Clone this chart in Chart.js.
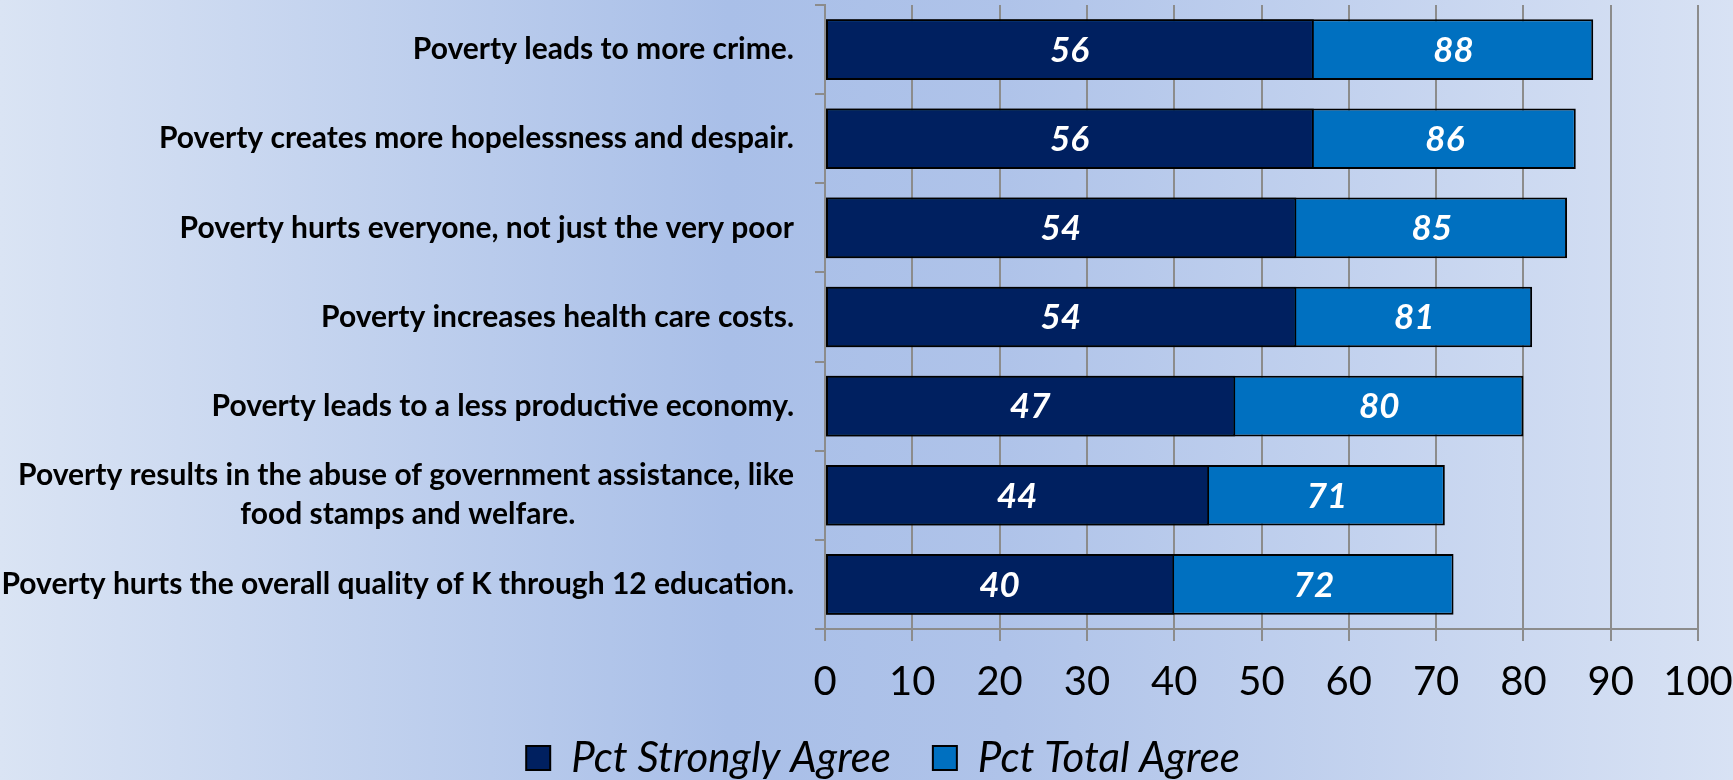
<!DOCTYPE html>
<html>
<head>
  <title>Poverty statements</title>
  <script src="https://cdn.jsdelivr.net/npm/chart.js"></script>
  <style>
    body { margin: 0; }
    #wrap { width: 1733px; height: 780px; }
  </style>
</head>
<body>
<div id="wrap">
  <canvas id="povertyChart" width="1733" height="780"></canvas>
</div>

<script>
  // данные
  const statements = [
    ['Poverty leads to more crime.'],
    ['Poverty creates more hopelessness and despair.'],
    ['Poverty hurts everyone, not just the very poor'],
    ['Poverty increases health care costs.'],
    ['Poverty leads to a less productive economy.'],
    ['Poverty results in the abuse of government assistance, like', 'food stamps and welfare.'],
    ['Poverty hurts the overall quality of K through 12 education.']
  ];
  const strongly = [56, 56, 54, 54, 47, 44, 40];
  const total = [88, 86, 85, 81, 80, 71, 72];
  const seriesNames = ['Pct Strongly Agree', 'Pct Total Agree'];
  const xTicks = [0, 10, 20, 30, 40, 50, 60, 70, 80, 90, 100];

  const labelFont = 'bold 30px Lato';
  const gridGray = '#8c8c8c';

  // многострочную подпись выравниваем по центру: добиваем короткие строки пробелами справа
  function centerLines(lines) {
    if (lines.length < 2) return lines[0];
    const c = document.createElement('canvas').getContext('2d');
    c.font = labelFont;
    const widths = lines.map(l => c.measureText(l).width);
    const maxW = Math.max(...widths);
    const sp = c.measureText('\u00a0').width;
    return lines.map((l, i) => l + '\u00a0'.repeat(Math.round((maxW - widths[i]) / 2 / sp)));
  }
  const categories = statements.map(centerLines);

  // фон слайда
  const backgroundPlugin = {
    id: 'slideBackground',
    beforeDraw(chart) {
      const ctx = chart.ctx;
      const w = chart.width, h = chart.height;
      const g = ctx.createLinearGradient(0, 0, w, 0);
      g.addColorStop(0, '#dae4f4');
      g.addColorStop(0.42, '#a9bfe8');
      g.addColorStop(0.58, '#afc3e9');
      g.addColorStop(1, '#d8e2f4');
      ctx.save();
      ctx.fillStyle = g;
      ctx.fillRect(0, 0, w, h);
      ctx.restore();
    }
  };

  // подписи значений внутри полос
  const valueLabels = {
    id: 'valueLabels',
    afterDatasetsDraw(chart) {
      const ctx = chart.ctx;
      const xs = chart.scales.x, ys = chart.scales.y;
      ctx.save();
      ctx.font = 'italic bold 35px Lato';
      ctx.fillStyle = '#ffffff';
      ctx.textAlign = 'center';
      ctx.textBaseline = 'middle';
      categories.forEach((c, i) => {
        const y = ys.getPixelForValue(i) + 1;
        const s = strongly[i], t = total[i];
        ctx.fillText(String(s), xs.getPixelForValue(s / 2), y);
        ctx.fillText(String(t), xs.getPixelForValue((s + t) / 2), y);
      });
      ctx.restore();
    }
  };

  const ctx = document.getElementById('povertyChart').getContext('2d');
  new Chart(ctx, {
    type: 'bar',
    data: {
      labels: categories,
      datasets: [
        {
          label: seriesNames[0],
          data: strongly,
          backgroundColor: '#002060',
          borderColor: '#000000',
          borderWidth: 2,
          borderSkipped: false,
          grouped: false,
          categoryPercentage: 1,
          barPercentage: 0.68
        },
        {
          label: seriesNames[1],
          data: total,
          backgroundColor: '#0070c0',
          borderColor: '#000000',
          borderWidth: 2,
          borderSkipped: false,
          grouped: false,
          categoryPercentage: 1,
          barPercentage: 0.68
        }
      ]
    },
    options: {
      indexAxis: 'y',
      responsive: false,
      animation: false,
      layout: {
        // отрицательные отступы сдвигают легенду как в оригинале
        padding: { top: 5, left: 0, right: -33, bottom: -9 }
      },
      scales: {
        x: {
          min: 0,
          max: 100,
          afterBuildTicks(scale) {
            scale.ticks = xTicks.map(v => ({ value: v }));
          },
          afterFit(scale) {
            scale.height = 66;
            scale.paddingLeft = 0;
            scale.paddingRight = 35;
          },
          grid: {
            color: gridGray,
            lineWidth: 2,
            tickLength: 12
          },
          border: { color: gridGray, width: 2 },
          ticks: {
            color: '#000000',
            padding: 17,
            font: { family: 'Lato', size: 40 }
          }
        },
        y: {
          offset: true,
          afterFit(scale) {
            scale.width = 825;
            scale.paddingTop = 0;
            scale.paddingBottom = 0;
          },
          grid: {
            offset: true,
            drawOnChartArea: false,
            color: gridGray,
            lineWidth: 2,
            tickLength: 10
          },
          border: { color: gridGray, width: 2 },
          ticks: {
            color: '#000000',
            padding: 21,
            autoSkip: false,
            font: { family: 'Lato', size: 30, weight: 'bold', lineHeight: 1.3 }
          }
        }
      },
      plugins: {
        legend: {
          position: 'bottom',
          labels: {
            color: '#000000',
            boxWidth: 24,
            boxHeight: 24,
            padding: 42,
            font: { family: 'Lato', size: 42, style: 'italic' }
          }
        },
        tooltip: { enabled: false }
      }
    },
    plugins: [backgroundPlugin, valueLabels]
  });
</script>
</body>
</html>
